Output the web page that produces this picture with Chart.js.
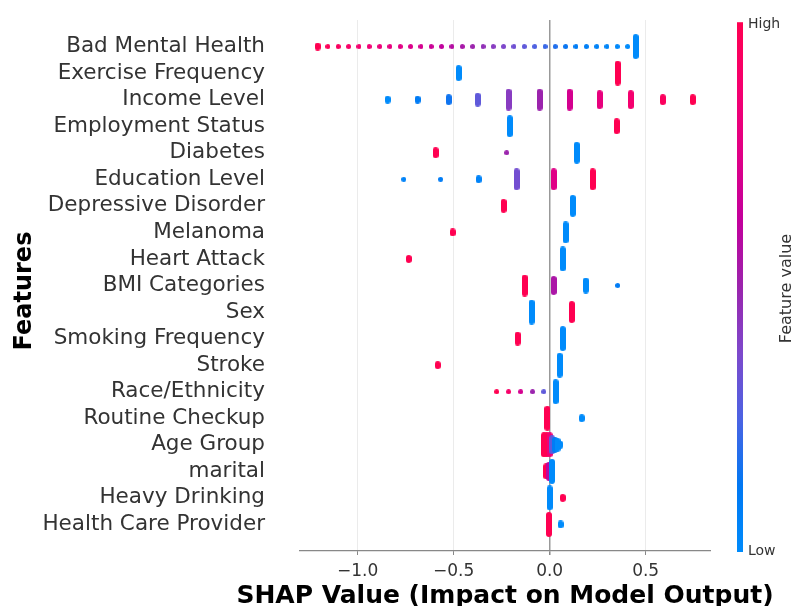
<!DOCTYPE html>
<html>
<head>
<meta charset="utf-8">
<script src="https://cdn.jsdelivr.net/npm/chart.js@4.4.1/dist/chart.umd.min.js"></script>
<style>
  html, body { margin: 0; padding: 0; background: #fff; }
</style>
</head>
<body>
<canvas id="shapChart" width="800" height="606"></canvas>
<script>
    // features, top to bottom
    const features = [
      'Bad Mental Health', 'Exercise Frequency', 'Income Level', 'Employment Status',
      'Diabetes', 'Education Level', 'Depressive Disorder', 'Melanoma', 'Heart Attack',
      'BMI Categories', 'Sex', 'Smoking Frequency', 'Stroke', 'Race/Ethnicity',
      'Routine Checkup', 'Age Group', 'marital', 'Heavy Drinking', 'Health Care Provider'
    ];

    // SHAP value of each cluster of dots, per feature
    const shapValues = [
      [-1.208, -1.155, -1.101, -1.047, -0.993, -0.940, -0.885, -0.832, -0.778, -0.724, -0.670,
       -0.617, -0.563, -0.509, -0.455, -0.401, -0.347, -0.294, -0.240, -0.186, -0.132, -0.078,
       -0.024, 0.029, 0.083, 0.137, 0.191, 0.245, 0.298, 0.352, 0.406, 0.448],
      [-0.474, 0.354],
      [-0.844, -0.688, -0.526, -0.375, -0.214, -0.052, 0.104, 0.260, 0.422, 0.589, 0.745],
      [-0.208, 0.349],
      [-0.594, -0.224, 0.141],
      [-0.760, -0.568, -0.370, -0.172, 0.021, 0.224],
      [-0.240, 0.120],
      [-0.505, 0.083],
      [-0.734, 0.068],
      [-0.130, 0.021, 0.188, 0.354],
      [-0.094, 0.115],
      [-0.167, 0.068],
      [-0.583, 0.052],
      [-0.276, -0.214, -0.151, -0.089, -0.031, 0.031],
      [-0.012, 0.167],
      [-0.030, -0.015, 0.000, 0.013, 0.027, 0.041, 0.056],
      [-0.018, -0.004, 0.012],
      [0.000, 0.068],
      [-0.004, 0.057]
    ];

    // feature value (0 = low, 1 = high) of each cluster
    const featureValues = [
      [1.0, 0.97, 0.94, 0.91, 0.88, 0.85, 0.82, 0.79, 0.76, 0.73, 0.70, 0.66, 0.62, 0.58, 0.54,
       0.50, 0.46, 0.42, 0.38, 0.34, 0.30, 0.26, 0.22, 0.18, 0.14, 0.10, 0.08, 0.06, 0.04, 0.02,
       0.0, 0.0],
      [0.0, 1.0],
      [0.0, 0.1, 0.15, 0.3, 0.42, 0.5, 0.7, 0.8, 0.88, 0.95, 1.0],
      [0.0, 1.0],
      [1.0, 0.5, 0.0],
      [0.05, 0.1, 0.05, 0.35, 0.75, 1.0],
      [1.0, 0.0],
      [1.0, 0.0],
      [1.0, 0.0],
      [1.0, 0.55, 0.0, 0.1],
      [0.0, 1.0],
      [1.0, 0.0],
      [1.0, 0.0],
      [1.0, 0.9, 0.7, 0.5, 0.3, 0.0],
      [1.0, 0.0],
      [1.0, 1.0, 0.85, 0.3, 0.1, 0.0, 0.0],
      [1.0, 0.6, 0.0],
      [0.0, 1.0],
      [1.0, 0.0]
    ];

    // how many samples are piled up in each cluster
    const stackCounts = [
      [2, 1, 1, 1, 1, 1, 1, 1, 1, 1, 1, 1, 1, 1, 1, 1, 1, 1, 1, 1, 1, 1, 1, 1, 1, 1, 1, 1, 1, 1, 1, 8],
      [5, 8],
      [2, 2, 3, 4, 7, 7, 7, 6, 6, 3, 3],
      [7, 5],
      [3, 1, 7],
      [1, 1, 2, 7, 7, 7],
      [4, 7],
      [2, 7],
      [2, 8],
      [7, 6, 5, 1],
      [8, 7],
      [4, 8],
      [2, 8],
      [1, 1, 1, 1, 1, 8],
      [8, 2],
      [8, 8, 8, 6, 5, 4, 2],
      [5, 6, 8],
      [8, 2],
      [8, 2]
    ];

    const xTicks = [-1.0, -0.5, 0.0, 0.5];
    const colorbarTicks = ['Low', 'High'];

    // shap red_blue colormap, sampled
    const cmapStops = [
      [0, [0, 139, 251]], [0.125, [0, 120, 243]], [0.25, [75, 99, 227]],
      [0.375, [125, 73, 204]], [0.5, [155, 36, 173]], [0.625, [194, 0, 156]],
      [0.75, [224, 0, 134]], [0.875, [245, 0, 111]], [1, [255, 0, 81]]
    ];

    function colorFor(t) {
      for (let i = 1; i < cmapStops.length; i++) {
        const [t1, c1] = cmapStops[i];
        const [t0, c0] = cmapStops[i - 1];
        if (t <= t1) {
          const f = (t - t0) / (t1 - t0);
          const c = c0.map((v, k) => Math.round(v + (c1[k] - v) * f));
          return `rgb(${c[0]},${c[1]},${c[2]})`;
        }
      }
      return 'rgb(255,0,81)';
    }

    const markCache = {};
    function makeMark(color, n) {
      const key = color + '|' + n;
      if (markCache[key]) return markCache[key];
      const w = n > 1 ? 6 : 5;
      const h = Math.round(5 + (n - 1) * 2.85);
      const c = document.createElement('canvas');
      c.width = w;
      c.height = h;
      const g = c.getContext('2d');
      const r = Math.min(w, h) / 2;
      g.fillStyle = color;
      g.beginPath();
      g.moveTo(r, 0);
      g.lineTo(w - r, 0);
      g.arc(w - r, r, r, -Math.PI / 2, 0);
      g.lineTo(w, h - r);
      g.arc(w - r, h - r, r, 0, Math.PI / 2);
      g.lineTo(r, h);
      g.arc(r, h - r, r, Math.PI / 2, Math.PI);
      g.lineTo(0, r);
      g.arc(r, r, r, Math.PI, Math.PI * 1.5);
      g.fill();
      markCache[key] = c;
      return c;
    }

    const points = [];
    features.forEach((name, row) => {
      shapValues[row].forEach((v, j) => {
        points.push({ x: v, y: row, fv: featureValues[row][j], n: stackCounts[row][j] });
      });
    });

    const font = 'DejaVu Sans';

    // colour bar and the axis titles
    const colorbarPlugin = {
      id: 'colorbar',
      afterDraw(chart) {
        const s = chart.scales.fv;
        const area = chart.chartArea;
        const g = chart.ctx;
        const top = s.getPixelForValue(1) - 2;
        const bottom = s.getPixelForValue(0) + 1;
        const grad = g.createLinearGradient(0, bottom, 0, top);
        cmapStops.forEach(([t, c]) => grad.addColorStop(t, `rgb(${c[0]},${c[1]},${c[2]})`));
        g.save();
        g.fillStyle = grad;
        g.fillRect(s.left + 27, top, 6, bottom - top);

        g.textAlign = 'center';
        g.textBaseline = 'middle';
        g.fillStyle = '#000';
        g.font = `bold 25px "${font}"`;
        g.fillText('SHAP Value (Impact on Model Output)', (area.left + area.right) / 2, 596);

        g.save();
        g.translate(25, 291);
        g.rotate(-Math.PI / 2);
        g.font = `bold 24px "${font}"`;
        g.fillText('Features', 0, 0);
        g.restore();

        g.translate(chart.width - 13, (area.top + area.bottom) / 2 + 3);
        g.rotate(-Math.PI / 2);
        g.font = `16px "${font}"`;
        g.fillStyle = '#333';
        g.fillText('Feature value', 0, 0);
        g.restore();
      }
    };

    const ctx = document.getElementById('shapChart').getContext('2d');
    const chart = new Chart(ctx, {
      type: 'scatter',
      data: {
        datasets: [{
          data: points,
          pointStyle: c => (c.raw ? makeMark(colorFor(c.raw.fv), c.raw.n) : 'circle'),
        }],
      },
      options: {
        responsive: false,
        animation: false,
        events: [],
        layout: { padding: { top: 20, left: 0, right: 0, bottom: 0 } },
        plugins: {
          legend: { display: false },
          tooltip: { enabled: false }
        },
        scales: {
          x: {
            type: 'linear',
            min: -1.3,
            max: 0.835,
            afterBuildTicks: s => { s.ticks = xTicks.map(v => ({ value: v })); },
            afterFit: s => { s.height = 55; },
            border: { color: '#888', width: 1.2 },
            grid: {
              color: c => (c.tick && c.tick.value === 0 ? '#999' : '#ebebeb'),
              lineWidth: c => (c.tick && c.tick.value === 0 ? 1.5 : 1),
              tickColor: '#888',
              tickLength: 4,
            },
            ticks: {
              autoSkip: false,
              maxRotation: 0,
              padding: 6,
              color: '#333',
              font: { family: font, size: 17 },
              callback: v => (v < 0 ? '\u2212' : '') + Math.abs(v).toFixed(1),
            }
          },
          y: {
            type: 'linear',
            reverse: true,
            min: -1,
            max: features.length,
            afterBuildTicks: s => { s.ticks = features.map((f, i) => ({ value: i })); },
            afterFit: s => { s.width = 300; },
            border: { display: false },
            grid: { display: false, drawTicks: true, tickLength: 33 },
            ticks: {
              autoSkip: false,
              padding: 2,
              color: '#333',
              font: { family: font, size: 21.5 },
              callback: v => features[v],
            }
          },
          fv: {
            type: 'linear',
            axis: 'y',
            position: 'right',
            min: 0,
            max: 1.008,
            afterBuildTicks: s => { s.ticks = [{ value: 0 }, { value: 1 }]; },
            afterFit: s => { s.width = 90; },
            border: { display: false },
            grid: { display: false, drawTicks: true, tickLength: 36 },
            ticks: {
              padding: 2,
              color: '#333',
              font: { family: font, size: 14 },
              callback: v => colorbarTicks[v],
            }
          }
        }
      },
      plugins: [colorbarPlugin]
    });
</script>
</body>
</html>
